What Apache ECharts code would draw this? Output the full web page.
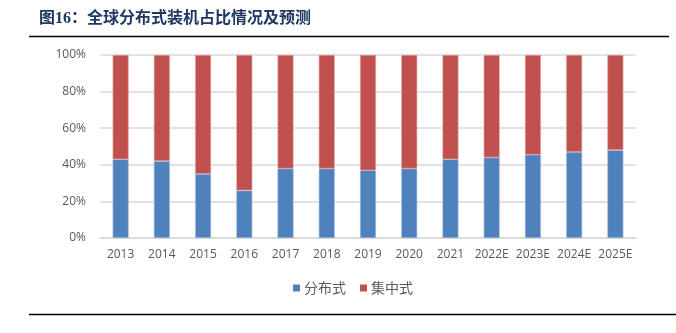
<!DOCTYPE html>
<html><head><meta charset="utf-8">
<script src="https://cdn.jsdelivr.net/npm/echarts@6/dist/echarts.min.js"></script>
<style>html,body{margin:0;padding:0;background:#fff}#c{width:676px;height:333px}</style>
</head><body><div id="c"></div>
<script>
const categories = ['2013','2014','2015','2016','2017','2018','2019','2020','2021','2022E','2023E','2024E','2025E'];
const distributed = [43, 42, 35, 26, 38, 38, 37, 38, 43, 44, 45.5, 47, 48];
const centralized = distributed.map(v => 100 - v);
const yTicks = [0, 20, 40, 60, 80, 100];
const titleText = '图16：全球分布式装机占比情况及预测';

const chart = echarts.init(document.getElementById('c'), null, {renderer: 'canvas'});
chart.setOption({
  animation: false,
  backgroundColor: '#ffffff',
  title: {
    text: titleText,
    left: 34, top: 6,
    textStyle: {fontFamily: '"Liberation Serif", "Noto Sans CJK SC"', fontWeight: 'bold', fontSize: 16, color: '#1f3864'}
  },
  graphic: [
    {type: 'line', shape: {x1: 29, y1: 36.5, x2: 669, y2: 36.5}, style: {stroke: '#000', lineWidth: 1.6}},
    {type: 'line', shape: {x1: 29, y1: 314.5, x2: 676, y2: 314.5}, style: {stroke: '#000', lineWidth: 1.6}}
  ],
  legend: {
    data: ['分布式', '集中式'],
    bottom: 33, left: 288,
    itemWidth: 7, itemHeight: 7, itemGap: 14,
    icon: 'rect',
    itemStyle: {borderWidth: 0},
    textStyle: {fontFamily: '"Noto Sans CJK SC"', fontSize: 14, color: '#595959', padding: [0,0,0,-1]}
  },
  grid: {left: 100, right: 40, top: 55, bottom: 95},
  xAxis: {
    type: 'category', data: categories,
    axisLine: {lineStyle: {color: '#d9d9d9', width: 1.5}},
    axisTick: {show: false},
    axisLabel: {interval: 0, color: '#595959', fontFamily: '"Open Sans", "Noto Sans"', fontSize: 12, margin: 11}
  },
  yAxis: {
    type: 'value', min: 0, max: 100, interval: 20,
    axisLine: {show: false}, axisTick: {show: false},
    splitLine: {lineStyle: {color: '#d9d9d9', width: 1.5}},
    axisLabel: {color: '#595959', fontFamily: '"Open Sans", "Noto Sans"', fontSize: 12, margin: 14,
      formatter: v => yTicks.includes(v) ? v + '%' : ''}
  },
  series: [
    {name: '分布式', type: 'bar', stack: 's', data: distributed, barWidth: 16,
     itemStyle: {color: '#4f81bd', borderColor: '#a9c0e0', borderWidth: 0.6}},
    {name: '集中式', type: 'bar', stack: 's', data: centralized, barWidth: 16,
     itemStyle: {color: '#c0504d', borderColor: '#e0a8a6', borderWidth: 0.6}}
  ]
});
</script></body></html>
